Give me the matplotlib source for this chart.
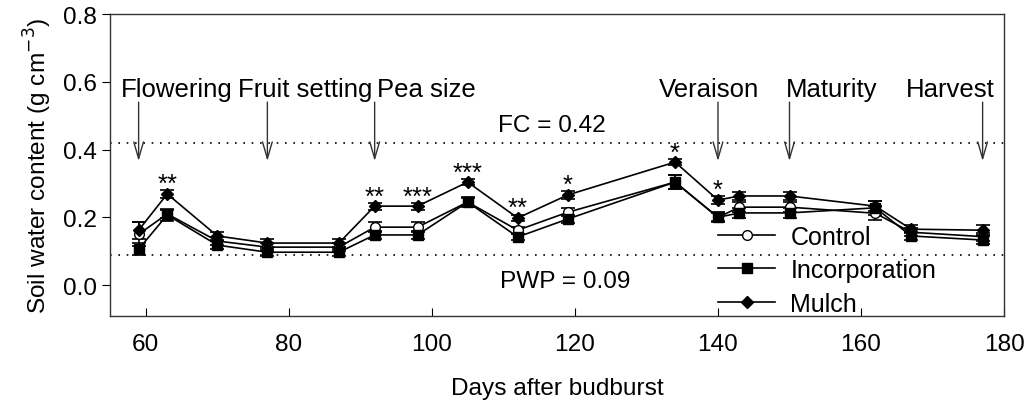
import matplotlib
matplotlib.use("Agg")
import matplotlib.pyplot as plt

plt.rcParams['font.family'] = ['Liberation Sans', 'DejaVu Sans']

days = [59, 63, 70, 77, 87, 92, 98, 105, 112, 119, 134, 140, 143, 150, 162, 167, 177]
control = [0.150, 0.210, 0.130, 0.112, 0.112, 0.171, 0.171, 0.245, 0.162, 0.215, 0.304, 0.200, 0.230, 0.230, 0.212, 0.156, 0.143]
control_err = [0.035, 0.012, 0.012, 0.012, 0.012, 0.015, 0.015, 0.012, 0.010, 0.012, 0.020, 0.012, 0.015, 0.015, 0.020, 0.012, 0.012]
incorporation = [0.106, 0.207, 0.118, 0.097, 0.097, 0.148, 0.148, 0.245, 0.142, 0.195, 0.304, 0.200, 0.213, 0.213, 0.228, 0.145, 0.133]
incorporation_err = [0.018, 0.018, 0.012, 0.010, 0.010, 0.012, 0.012, 0.015, 0.010, 0.012, 0.020, 0.015, 0.015, 0.015, 0.020, 0.012, 0.012]
mulch = [0.162, 0.269, 0.145, 0.124, 0.124, 0.233, 0.233, 0.304, 0.198, 0.266, 0.363, 0.251, 0.263, 0.263, 0.233, 0.165, 0.162]
mulch_err = [0.025, 0.012, 0.012, 0.012, 0.012, 0.010, 0.010, 0.010, 0.010, 0.012, 0.010, 0.012, 0.012, 0.012, 0.015, 0.012, 0.015]

series_names = ['Control', 'Incorporation', 'Mulch']

sig_days = [63, 92, 98, 105, 112, 119, 134, 140]
sig_labels = ['**', '**', '***', '***', '**', '*', '*', '*']

stage_names = ['Flowering', 'Fruit setting', 'Pea size', 'Veraison', 'Maturity', 'Harvest']
stage_days = [59, 77, 92, 140, 150, 177]
stage_text_x = [56.5, 72.9, 92.3, 131.7, 149.5, 166.3]

FC = 0.42
PWP = 0.09

fig = plt.figure(figsize=(10.33, 4.06), dpi=100)
ax = fig.add_axes([0.1065, 0.219, 0.8655, 0.744])

fs = 17.6
kw = dict(color='black', lw=1.2, elinewidth=1.2, capsize=5, capthick=1.2, markersize=7,
          markeredgecolor='black')
e1 = ax.errorbar(days, control, yerr=control_err, marker='o', mfc='white', **kw)
e2 = ax.errorbar(days, incorporation, yerr=incorporation_err, marker='s', mfc='black', **kw)
e3 = ax.errorbar(days, mulch, yerr=mulch_err, marker='D', mfc='black',
                 **{**kw, 'markersize': 6.5})

ax.axhline(FC, color='black', lw=1.2, linestyle=(0, (1, 4)))
ax.axhline(PWP, color='black', lw=1.2, linestyle=(0, (1, 4)))
ax.text(116.8, 0.455, 'FC = %.2f' % FC, ha='center', va='baseline', fontsize=fs)
ax.text(118.6, -0.006, 'PWP = %.2f' % PWP, ha='center', va='baseline', fontsize=fs)

for d, lab in zip(sig_days, sig_labels):
    i = days.index(d)
    ax.text(d, mulch[i] + 0.008, lab, ha='center', va='baseline', fontsize=18.5)

for name, d, tx in zip(stage_names, stage_days, stage_text_x):
    ax.text(tx, 0.558, name, ha='left', va='baseline', fontsize=18.5)
    ax.annotate('', xy=(d, 0.366), xytext=(d, 0.54),
                arrowprops=dict(arrowstyle='->,head_length=1.2,head_width=0.35',
                                color='#333333', lw=1.0, shrinkA=0, shrinkB=0))

ax.set_xlim(55, 180)
ax.set_ylim(-0.0915, 0.8)
ax.set_xticks([60, 80, 100, 120, 140, 160, 180])
ax.set_yticks([0.0, 0.2, 0.4, 0.6, 0.8])
ax.set_yticklabels(['0.0', '0.2', '0.4', '0.6', '0.8'])
ax.tick_params(axis='x', direction='in', length=6, labelsize=fs, pad=12, top=False)
ax.tick_params(axis='y', direction='out', length=6, labelsize=fs, right=False)
for s in ax.spines.values():
    s.set_linewidth(1.0)
    s.set_color('#333333')

ax.set_xlabel('Days after budburst', fontsize=fs, labelpad=16)
ax.set_ylabel('Soil water content (g cm$^{-3}$)', fontsize=fs, labelpad=6)

leg = ax.legend(handles=[e1[0], e2[0], e3[0]], labels=series_names,
                loc='center left', bbox_to_anchor=(0.68, 0.152),
                frameon=False, fontsize=18, handlelength=2.3, handletextpad=0.6,
                labelspacing=0.38, borderpad=0, borderaxespad=0)

fig.savefig('out.png', dpi=100)
